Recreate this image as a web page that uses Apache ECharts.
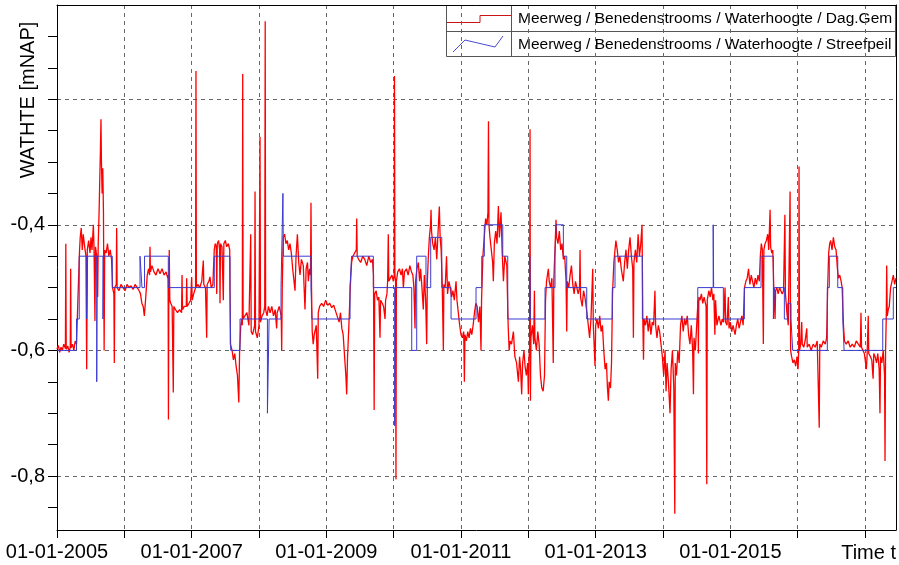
<!DOCTYPE html>
<html>
<head>
<meta charset="utf-8">
<script src="https://cdn.jsdelivr.net/npm/echarts@6/dist/echarts.min.js"></script>
<style>
  html, body { margin: 0; padding: 0; background: #fff; }
  #main { width: 899px; height: 565px; }
</style>
</head>
<body>
<div id="main"></div>
<script>
// tijd in decimale jaren, waarden in mNAP
const yearTicks = [2005, 2006, 2007, 2008, 2009, 2010, 2011, 2012, 2013, 2014, 2015, 2016, 2017];
const yearLabels = [2005, 2007, 2009, 2011, 2013, 2015];
const valueTicks = [-0.85, -0.8, -0.75, -0.7, -0.65, -0.6, -0.55, -0.5, -0.45, -0.4, -0.35, -0.3, -0.25, -0.2, -0.15, -0.1];
const gridValues = [-0.8, -0.6, -0.4, -0.2];
const valueLabels = [-0.8, -0.6, -0.4];

// Streefpeil (trapjes, waarde geldt vanaf datum)
const streefpeil = [
  [2005.000, -0.60], [2005.290, -0.55], [2005.330, -0.45], [2005.440, -0.55], [2005.455, -0.45],
  [2005.590, -0.65], [2005.598, -0.45], [2005.683, -0.55], [2005.690, -0.45], [2005.821, -0.50],
  [2006.233, -0.45], [2006.262, -0.50], [2006.300, -0.45], [2006.653, -0.50], [2007.336, -0.45],
  [2007.569, -0.50], [2007.580, -0.60], [2007.718, -0.55], [2008.125, -0.70], [2008.150, -0.55],
  [2008.327, -0.50], [2008.355, -0.35], [2008.362, -0.45], [2008.772, -0.50], [2008.785, -0.55],
  [2009.352, -0.50], [2009.375, -0.45], [2009.698, -0.50], [2010.015, -0.72], [2010.025, -0.50],
  [2010.268, -0.60], [2010.342, -0.45], [2010.480, -0.50], [2010.550, -0.42], [2010.714, -0.50],
  [2010.852, -0.55], [2011.223, -0.50], [2011.308, -0.45], [2011.346, -0.40], [2011.620, -0.45],
  [2011.694, -0.55], [2012.020, -0.45], [2012.030, -0.55], [2012.248, -0.50], [2012.396, -0.45],
  [2012.411, -0.40], [2012.520, -0.45], [2012.570, -0.50], [2012.867, -0.55], [2013.247, -0.50],
  [2013.287, -0.45], [2013.693, -0.55], [2014.516, -0.50], [2014.745, -0.40], [2014.752, -0.50],
  [2014.896, -0.55], [2015.208, -0.50], [2015.456, -0.45], [2015.639, -0.55], [2015.655, -0.50],
  [2015.802, -0.55], [2015.852, -0.525], [2015.900, -0.55], [2015.926, -0.60], [2016.440, -0.50],
  [2016.470, -0.45], [2016.595, -0.50], [2016.670, -0.55], [2016.689, -0.60], [2017.263, -0.55],
  [2017.420, -0.50], [2017.460, -0.50]
];

// Dag.Gem (daggemiddelde waterhoogte)
const dagGem = [
  [2005.000, -0.598], [2005.020, -0.592], [2005.040, -0.603], [2005.060, -0.595], [2005.080, -0.600],
  [2005.100, -0.590], [2005.125, -0.597], [2005.131, -0.430], [2005.137, -0.598], [2005.160, -0.593],
  [2005.180, -0.603], [2005.197, -0.595], [2005.203, -0.470], [2005.209, -0.596], [2005.230, -0.590],
  [2005.250, -0.600], [2005.270, -0.585], [2005.290, -0.590], [2005.310, -0.520], [2005.335, -0.440],
  [2005.345, -0.420], [2005.360, -0.405], [2005.375, -0.440], [2005.390, -0.415], [2005.405, -0.430],
  [2005.430, -0.450], [2005.441, -0.630], [2005.450, -0.440], [2005.470, -0.425], [2005.490, -0.445],
  [2005.505, -0.420], [2005.520, -0.440], [2005.540, -0.400], [2005.550, -0.440], [2005.564, -0.553],
  [2005.572, -0.435], [2005.590, -0.450], [2005.604, -0.515], [2005.612, -0.430], [2005.625, -0.380],
  [2005.635, -0.330], [2005.645, -0.280], [2005.653, -0.232], [2005.660, -0.300], [2005.670, -0.350],
  [2005.680, -0.310], [2005.690, -0.380], [2005.700, -0.600], [2005.708, -0.440], [2005.730, -0.445],
  [2005.750, -0.430], [2005.770, -0.450], [2005.790, -0.440], [2005.810, -0.455], [2005.825, -0.500],
  [2005.845, -0.510], [2005.851, -0.620], [2005.858, -0.500], [2005.880, -0.495], [2005.886, -0.405],
  [2005.893, -0.500], [2005.920, -0.505], [2005.950, -0.495], [2005.980, -0.500], [2006.010, -0.505],
  [2006.040, -0.495], [2006.070, -0.500], [2006.100, -0.497], [2006.130, -0.503], [2006.160, -0.495],
  [2006.190, -0.500], [2006.220, -0.505], [2006.240, -0.510], [2006.260, -0.525], [2006.280, -0.530],
  [2006.297, -0.545], [2006.315, -0.520], [2006.340, -0.480], [2006.360, -0.470], [2006.375, -0.480],
  [2006.381, -0.435], [2006.388, -0.475], [2006.410, -0.465], [2006.440, -0.475], [2006.470, -0.480],
  [2006.500, -0.470], [2006.530, -0.478], [2006.560, -0.470], [2006.590, -0.480], [2006.620, -0.475],
  [2006.645, -0.485], [2006.650, -0.480], [2006.655, -0.710], [2006.660, -0.520], [2006.667, -0.440],
  [2006.675, -0.520], [2006.690, -0.525], [2006.710, -0.530], [2006.727, -0.667], [2006.735, -0.530],
  [2006.760, -0.535], [2006.790, -0.540], [2006.820, -0.535], [2006.850, -0.540], [2006.857, -0.480],
  [2006.864, -0.535], [2006.890, -0.530], [2006.920, -0.530], [2006.926, -0.485], [2006.933, -0.530],
  [2006.960, -0.525], [2006.985, -0.520], [2007.000, -0.483], [2007.008, -0.520], [2007.030, -0.510],
  [2007.058, -0.500], [2007.064, -0.155], [2007.070, -0.500], [2007.090, -0.495], [2007.120, -0.500],
  [2007.150, -0.490], [2007.173, -0.457], [2007.180, -0.495], [2007.205, -0.500], [2007.223, -0.580],
  [2007.230, -0.495], [2007.255, -0.490], [2007.272, -0.483], [2007.290, -0.500], [2007.315, -0.495],
  [2007.335, -0.440], [2007.350, -0.430], [2007.365, -0.435], [2007.372, -0.510], [2007.380, -0.430],
  [2007.400, -0.425], [2007.415, -0.440], [2007.421, -0.525], [2007.428, -0.430], [2007.450, -0.435],
  [2007.470, -0.520], [2007.478, -0.430], [2007.500, -0.425], [2007.520, -0.435], [2007.545, -0.430],
  [2007.565, -0.440], [2007.575, -0.590], [2007.600, -0.600], [2007.620, -0.615], [2007.640, -0.605],
  [2007.660, -0.625], [2007.680, -0.640], [2007.700, -0.683], [2007.712, -0.600], [2007.730, -0.560],
  [2007.745, -0.550], [2007.752, -0.560], [2007.758, -0.160], [2007.764, -0.550], [2007.790, -0.545],
  [2007.820, -0.540], [2007.850, -0.560], [2007.877, -0.415], [2007.884, -0.570], [2007.905, -0.575],
  [2007.935, -0.560], [2007.941, -0.347], [2007.948, -0.570], [2007.975, -0.580], [2008.000, -0.560],
  [2008.015, -0.260], [2008.022, -0.555], [2008.045, -0.545], [2008.070, -0.540], [2008.085, -0.530],
  [2008.092, -0.076], [2008.098, -0.535], [2008.120, -0.545], [2008.140, -0.530], [2008.165, -0.540],
  [2008.190, -0.530], [2008.215, -0.545], [2008.240, -0.535], [2008.262, -0.565], [2008.270, -0.540],
  [2008.300, -0.530], [2008.330, -0.545], [2008.337, -0.600], [2008.345, -0.500], [2008.360, -0.420],
  [2008.380, -0.415], [2008.400, -0.430], [2008.420, -0.425], [2008.440, -0.440], [2008.460, -0.430],
  [2008.480, -0.445], [2008.500, -0.470], [2008.520, -0.490], [2008.535, -0.505], [2008.550, -0.450],
  [2008.570, -0.415], [2008.590, -0.460], [2008.609, -0.480], [2008.630, -0.455], [2008.658, -0.465],
  [2008.670, -0.500], [2008.683, -0.535], [2008.700, -0.470], [2008.720, -0.460], [2008.733, -0.490],
  [2008.750, -0.470], [2008.765, -0.480], [2008.772, -0.365], [2008.780, -0.500], [2008.790, -0.570],
  [2008.805, -0.590], [2008.820, -0.575], [2008.850, -0.560], [2008.872, -0.645], [2008.880, -0.540],
  [2008.900, -0.530], [2008.930, -0.525], [2008.960, -0.530], [2008.990, -0.520], [2009.020, -0.528],
  [2009.050, -0.525], [2009.080, -0.532], [2009.110, -0.528], [2009.130, -0.535], [2009.160, -0.545],
  [2009.190, -0.555], [2009.210, -0.540], [2009.230, -0.565], [2009.250, -0.575], [2009.265, -0.600],
  [2009.290, -0.640], [2009.302, -0.670], [2009.315, -0.610], [2009.335, -0.560], [2009.355, -0.500],
  [2009.375, -0.460], [2009.395, -0.450], [2009.420, -0.445], [2009.445, -0.440], [2009.451, -0.390],
  [2009.458, -0.450], [2009.480, -0.455], [2009.510, -0.460], [2009.540, -0.450], [2009.570, -0.455],
  [2009.600, -0.465], [2009.630, -0.450], [2009.660, -0.460], [2009.685, -0.455], [2009.700, -0.480],
  [2009.710, -0.695], [2009.718, -0.510], [2009.740, -0.505], [2009.760, -0.520], [2009.780, -0.515],
  [2009.797, -0.580], [2009.805, -0.520], [2009.830, -0.525], [2009.850, -0.530], [2009.872, -0.550],
  [2009.880, -0.520], [2009.900, -0.510], [2009.910, -0.490], [2009.920, -0.415], [2009.928, -0.490],
  [2009.950, -0.485], [2009.975, -0.480], [2009.995, -0.490], [2010.008, -0.480], [2010.012, -0.163],
  [2010.018, -0.480], [2010.028, -0.490], [2010.034, -0.805], [2010.040, -0.490], [2010.060, -0.475],
  [2010.085, -0.470], [2010.110, -0.480], [2010.130, -0.470], [2010.144, -0.500], [2010.160, -0.475],
  [2010.190, -0.470], [2010.215, -0.480], [2010.240, -0.465], [2010.265, -0.475], [2010.285, -0.480],
  [2010.300, -0.500], [2010.317, -0.565], [2010.325, -0.490], [2010.345, -0.470], [2010.366, -0.460],
  [2010.385, -0.490], [2010.400, -0.470], [2010.420, -0.500], [2010.440, -0.535], [2010.455, -0.480],
  [2010.475, -0.520], [2010.490, -0.590], [2010.500, -0.490], [2010.515, -0.450], [2010.530, -0.420],
  [2010.548, -0.400], [2010.555, -0.376], [2010.562, -0.410], [2010.580, -0.430], [2010.600, -0.440],
  [2010.620, -0.420], [2010.640, -0.455], [2010.660, -0.410], [2010.678, -0.371], [2010.690, -0.420],
  [2010.705, -0.440], [2010.720, -0.490], [2010.738, -0.600], [2010.745, -0.495], [2010.765, -0.500],
  [2010.785, -0.450], [2010.800, -0.510], [2010.820, -0.490], [2010.840, -0.500], [2010.860, -0.515],
  [2010.880, -0.505], [2010.900, -0.520], [2010.926, -0.490], [2010.940, -0.520], [2010.960, -0.540],
  [2010.980, -0.560], [2011.000, -0.575], [2011.020, -0.580], [2011.040, -0.570], [2011.050, -0.650],
  [2011.058, -0.575], [2011.080, -0.585], [2011.100, -0.570], [2011.120, -0.580], [2011.140, -0.565],
  [2011.160, -0.575], [2011.180, -0.560], [2011.200, -0.540], [2011.220, -0.525], [2011.240, -0.530],
  [2011.260, -0.555], [2011.280, -0.530], [2011.297, -0.600], [2011.305, -0.520], [2011.325, -0.450],
  [2011.345, -0.420], [2011.365, -0.390], [2011.385, -0.400], [2011.400, -0.380], [2011.408, -0.235],
  [2011.415, -0.400], [2011.430, -0.420], [2011.450, -0.440], [2011.470, -0.460], [2011.480, -0.490],
  [2011.495, -0.430], [2011.515, -0.410], [2011.535, -0.430], [2011.555, -0.370], [2011.570, -0.420],
  [2011.594, -0.380], [2011.610, -0.440], [2011.630, -0.490], [2011.650, -0.450], [2011.680, -0.465],
  [2011.700, -0.560], [2011.715, -0.600], [2011.728, -0.585], [2011.750, -0.590], [2011.778, -0.570],
  [2011.800, -0.610], [2011.825, -0.620], [2011.852, -0.650], [2011.870, -0.610], [2011.885, -0.630],
  [2011.901, -0.670], [2011.915, -0.620], [2011.935, -0.600], [2011.951, -0.625], [2011.970, -0.640],
  [2011.990, -0.620], [2012.000, -0.670], [2012.010, -0.610], [2012.018, -0.600], [2012.025, -0.248],
  [2012.031, -0.680], [2012.038, -0.580], [2012.060, -0.560], [2012.080, -0.590], [2012.090, -0.505],
  [2012.097, -0.580], [2012.120, -0.600], [2012.140, -0.570], [2012.160, -0.590], [2012.180, -0.640],
  [2012.200, -0.660], [2012.220, -0.665], [2012.240, -0.640], [2012.255, -0.520], [2012.270, -0.490],
  [2012.297, -0.470], [2012.310, -0.490], [2012.330, -0.500], [2012.350, -0.485], [2012.370, -0.620],
  [2012.378, -0.490], [2012.395, -0.440], [2012.411, -0.392], [2012.420, -0.420], [2012.440, -0.430],
  [2012.460, -0.410], [2012.480, -0.440], [2012.500, -0.430], [2012.520, -0.455], [2012.540, -0.450],
  [2012.560, -0.490], [2012.570, -0.570], [2012.578, -0.490], [2012.600, -0.500], [2012.620, -0.480],
  [2012.640, -0.465], [2012.660, -0.495], [2012.680, -0.510], [2012.700, -0.490], [2012.720, -0.500],
  [2012.740, -0.510], [2012.760, -0.500], [2012.768, -0.440], [2012.775, -0.515], [2012.800, -0.530],
  [2012.820, -0.505], [2012.840, -0.515], [2012.870, -0.540], [2012.890, -0.560], [2012.910, -0.580],
  [2012.930, -0.550], [2012.956, -0.470], [2012.965, -0.560], [2012.990, -0.625], [2013.000, -0.560],
  [2013.020, -0.550], [2013.040, -0.565], [2013.060, -0.545], [2013.080, -0.570], [2013.100, -0.560],
  [2013.120, -0.600], [2013.140, -0.630], [2013.160, -0.620], [2013.175, -0.660], [2013.188, -0.680],
  [2013.200, -0.650], [2013.220, -0.660], [2013.235, -0.620], [2013.250, -0.510], [2013.270, -0.460],
  [2013.300, -0.425], [2013.320, -0.440], [2013.340, -0.460], [2013.360, -0.450], [2013.380, -0.470],
  [2013.410, -0.490], [2013.430, -0.460], [2013.450, -0.440], [2013.470, -0.470], [2013.490, -0.440],
  [2013.510, -0.420], [2013.530, -0.450], [2013.550, -0.470], [2013.560, -0.580], [2013.568, -0.460],
  [2013.590, -0.440], [2013.610, -0.460], [2013.630, -0.415], [2013.650, -0.450], [2013.670, -0.430],
  [2013.688, -0.400], [2013.700, -0.550], [2013.710, -0.615], [2013.718, -0.550], [2013.740, -0.560],
  [2013.760, -0.545], [2013.780, -0.570], [2013.800, -0.550], [2013.820, -0.575], [2013.840, -0.555],
  [2013.860, -0.560], [2013.880, -0.505], [2013.890, -0.560], [2013.910, -0.580], [2013.930, -0.560],
  [2013.950, -0.570], [2013.970, -0.590], [2013.990, -0.610], [2014.010, -0.640], [2014.030, -0.600],
  [2014.045, -0.665], [2014.060, -0.620], [2014.080, -0.650], [2014.104, -0.700], [2014.120, -0.630],
  [2014.140, -0.600], [2014.160, -0.660], [2014.175, -0.860], [2014.182, -0.620], [2014.200, -0.640],
  [2014.220, -0.600], [2014.240, -0.620], [2014.260, -0.560], [2014.280, -0.545], [2014.300, -0.570],
  [2014.320, -0.550], [2014.340, -0.560], [2014.360, -0.545], [2014.380, -0.575], [2014.400, -0.590],
  [2014.420, -0.560], [2014.440, -0.600], [2014.452, -0.670], [2014.460, -0.580], [2014.480, -0.600],
  [2014.500, -0.560], [2014.520, -0.520], [2014.525, -0.605], [2014.532, -0.515], [2014.550, -0.520],
  [2014.570, -0.510], [2014.590, -0.525], [2014.610, -0.515], [2014.640, -0.530], [2014.650, -0.813],
  [2014.657, -0.520], [2014.680, -0.505], [2014.700, -0.515], [2014.720, -0.500], [2014.740, -0.520],
  [2014.755, -0.510], [2014.770, -0.575], [2014.780, -0.520], [2014.800, -0.560], [2014.830, -0.545],
  [2014.860, -0.560], [2014.880, -0.550], [2014.900, -0.555], [2014.921, -0.500], [2014.930, -0.555],
  [2014.950, -0.560], [2014.970, -0.515], [2014.980, -0.565], [2015.000, -0.555], [2015.020, -0.570],
  [2015.040, -0.560], [2015.070, -0.575], [2015.090, -0.560], [2015.110, -0.550], [2015.130, -0.565],
  [2015.150, -0.555], [2015.170, -0.545], [2015.190, -0.560], [2015.210, -0.500], [2015.230, -0.490],
  [2015.250, -0.485], [2015.270, -0.470], [2015.290, -0.495], [2015.310, -0.480], [2015.330, -0.490],
  [2015.350, -0.500], [2015.370, -0.485], [2015.390, -0.495], [2015.410, -0.480], [2015.430, -0.490],
  [2015.445, -0.450], [2015.460, -0.430], [2015.475, -0.440], [2015.490, -0.590], [2015.498, -0.440],
  [2015.515, -0.430], [2015.535, -0.425], [2015.555, -0.415], [2015.570, -0.440], [2015.590, -0.376],
  [2015.598, -0.435], [2015.615, -0.445], [2015.630, -0.440], [2015.645, -0.500], [2015.664, -0.550],
  [2015.672, -0.505], [2015.690, -0.500], [2015.710, -0.510], [2015.730, -0.500], [2015.750, -0.505],
  [2015.770, -0.510], [2015.790, -0.505], [2015.810, -0.384], [2015.818, -0.510], [2015.840, -0.540],
  [2015.860, -0.560], [2015.887, -0.347], [2015.895, -0.600], [2015.910, -0.610], [2015.930, -0.620],
  [2015.950, -0.615], [2015.970, -0.625], [2015.990, -0.610], [2016.005, -0.630], [2016.015, -0.600],
  [2016.020, -0.307], [2016.027, -0.600], [2016.045, -0.590], [2016.060, -0.555], [2016.068, -0.590],
  [2016.090, -0.595], [2016.110, -0.585], [2016.135, -0.565], [2016.142, -0.595], [2016.170, -0.590],
  [2016.200, -0.600], [2016.230, -0.590], [2016.260, -0.595], [2016.290, -0.585], [2016.320, -0.723],
  [2016.328, -0.590], [2016.350, -0.595], [2016.380, -0.585], [2016.410, -0.590], [2016.430, -0.580],
  [2016.445, -0.500], [2016.460, -0.445], [2016.475, -0.430], [2016.490, -0.425], [2016.510, -0.440],
  [2016.530, -0.420], [2016.550, -0.435], [2016.570, -0.440], [2016.590, -0.470], [2016.605, -0.485],
  [2016.625, -0.480], [2016.645, -0.490], [2016.660, -0.500], [2016.680, -0.560], [2016.695, -0.585],
  [2016.720, -0.590], [2016.750, -0.585], [2016.780, -0.595], [2016.810, -0.590], [2016.840, -0.595],
  [2016.870, -0.585], [2016.900, -0.590], [2016.930, -0.595], [2016.940, -0.540], [2016.948, -0.595],
  [2016.970, -0.600], [2016.990, -0.605], [2017.020, -0.630], [2017.030, -0.610], [2017.048, -0.545],
  [2017.055, -0.605], [2017.080, -0.610], [2017.100, -0.615], [2017.120, -0.645], [2017.130, -0.605],
  [2017.150, -0.610], [2017.170, -0.620], [2017.190, -0.605], [2017.210, -0.630], [2017.222, -0.700],
  [2017.230, -0.610], [2017.250, -0.620], [2017.270, -0.600], [2017.290, -0.640], [2017.297, -0.776],
  [2017.305, -0.600], [2017.315, -0.550], [2017.322, -0.465], [2017.330, -0.545], [2017.345, -0.535],
  [2017.360, -0.530], [2017.380, -0.500], [2017.400, -0.490], [2017.420, -0.480], [2017.440, -0.495],
  [2017.460, -0.485]
];

const X_MIN = 2005, X_MAX = 2017.46;
const Y_MIN = -0.886, Y_MAX = -0.05;
const FONT = 'Liberation Sans, Arial, sans-serif';
const dashed = { color: '#666', type: [4, 4], width: 1 };

const chart = echarts.init(document.getElementById('main'));

chart.setOption({
  animation: false,
  backgroundColor: '#fff',
  textStyle: { fontFamily: FONT },
  grid: { left: 57, right: 3, top: 5, bottom: 35, containLabel: false },
  xAxis: [
    {
      type: 'value', position: 'bottom', min: X_MIN, max: X_MAX,
      axisLine: { show: true, onZero: false, lineStyle: { color: '#000', width: 1 } },
      axisTick: { show: true, customValues: yearTicks, length: 8, lineStyle: { color: '#000' } },
      axisLabel: {
        customValues: yearLabels, color: '#000', fontSize: 20, margin: 12, fontFamily: FONT,
        formatter: v => '01-01-' + Math.round(v)
      },
      splitLine: { show: true, lineStyle: dashed }
    },
    {
      type: 'value', position: 'top', min: X_MIN, max: X_MAX,
      axisLine: { show: true, onZero: false, lineStyle: { color: '#000', width: 1 } },
      axisTick: { show: false }, axisLabel: { show: false }, splitLine: { show: false }
    }
  ],
  yAxis: [
    {
      type: 'value', position: 'left', min: Y_MIN, max: Y_MAX,
      axisLine: { show: true, onZero: false, lineStyle: { color: '#000', width: 1 } },
      axisTick: { show: true, customValues: valueTicks, length: 9, lineStyle: { color: '#000' } },
      axisLabel: { show: false }, splitLine: { show: false }
    },
    {
      type: 'value', position: 'left', offset: 0, min: Y_MIN, max: Y_MAX,
      axisLine: { show: false },
      axisTick: { show: false, customValues: gridValues },
      axisLabel: {
        customValues: valueLabels, color: '#000', fontSize: 20, margin: 12, fontFamily: FONT,
        formatter: v => v.toFixed(1).replace('.', ',')
      },
      splitLine: { show: true, lineStyle: dashed }
    },
    {
      type: 'value', position: 'right', min: Y_MIN, max: Y_MAX,
      axisLine: { show: true, onZero: false, lineStyle: { color: '#000', width: 1 } },
      axisTick: { show: false }, axisLabel: { show: false }, splitLine: { show: false }
    }
  ],
  series: [
    {
      name: 'Meerweg / Benedenstrooms / Waterhoogte / Dag.Gem',
      type: 'line', xAxisIndex: 0, yAxisIndex: 0,
      data: dagGem, showSymbol: false, symbol: 'none',
      lineStyle: { color: '#ff0000', width: 1.3 }, z: 3
    },
    {
      name: 'Meerweg / Benedenstrooms / Waterhoogte / Streefpeil',
      type: 'line', xAxisIndex: 0, yAxisIndex: 0, step: 'end',
      data: streefpeil, showSymbol: false, symbol: 'none',
      lineStyle: { color: '#3a3ad0', width: 1 }, z: 4
    }
  ],
  graphic: [
    // as-titel
    {
      type: 'text', x: 28, y: 100, rotation: Math.PI / 2,
      style: { text: 'WATHTE [mNAP]', fontSize: 20, fontFamily: FONT, fill: '#000', align: 'center', verticalAlign: 'middle' }
    },
    {
      type: 'text', x: 896, y: 553,
      style: { text: 'Time t', fontSize: 20, fontFamily: FONT, fill: '#000', align: 'right', verticalAlign: 'middle' }
    },
    // legenda
    {
      type: 'group', z: 100,
      children: [
        { type: 'rect', shape: { x: 446.5, y: 5.5, width: 449, height: 51 }, style: { fill: '#fff', stroke: '#555', lineWidth: 1 } },
        { type: 'line', shape: { x1: 446.5, y1: 31.5, x2: 895.5, y2: 31.5 }, style: { stroke: '#555', lineWidth: 1 } },
        { type: 'line', shape: { x1: 511.5, y1: 5.5, x2: 511.5, y2: 56.5 }, style: { stroke: '#555', lineWidth: 1 } },
        { type: 'polyline', shape: { points: [[447, 22.5], [480, 22.5], [480, 15.5], [511, 15.5]] }, style: { stroke: '#c81414', lineWidth: 1, fill: null } },
        { type: 'polyline', shape: { points: [[453, 52], [465, 40], [495, 47], [503, 36]] }, style: { stroke: '#4a4ad0', lineWidth: 1, fill: null } },
        { type: 'text', x: 518, y: 19, style: { text: 'Meerweg / Benedenstrooms / Waterhoogte / Dag.Gem', fontSize: 15.5, fontFamily: FONT, fill: '#000', verticalAlign: 'middle' } },
        { type: 'text', x: 518, y: 44.5, style: { text: 'Meerweg / Benedenstrooms / Waterhoogte / Streefpeil', fontSize: 15.5, fontFamily: FONT, fill: '#000', verticalAlign: 'middle' } }
      ]
    }
  ]
});
</script>
</body>
</html>
